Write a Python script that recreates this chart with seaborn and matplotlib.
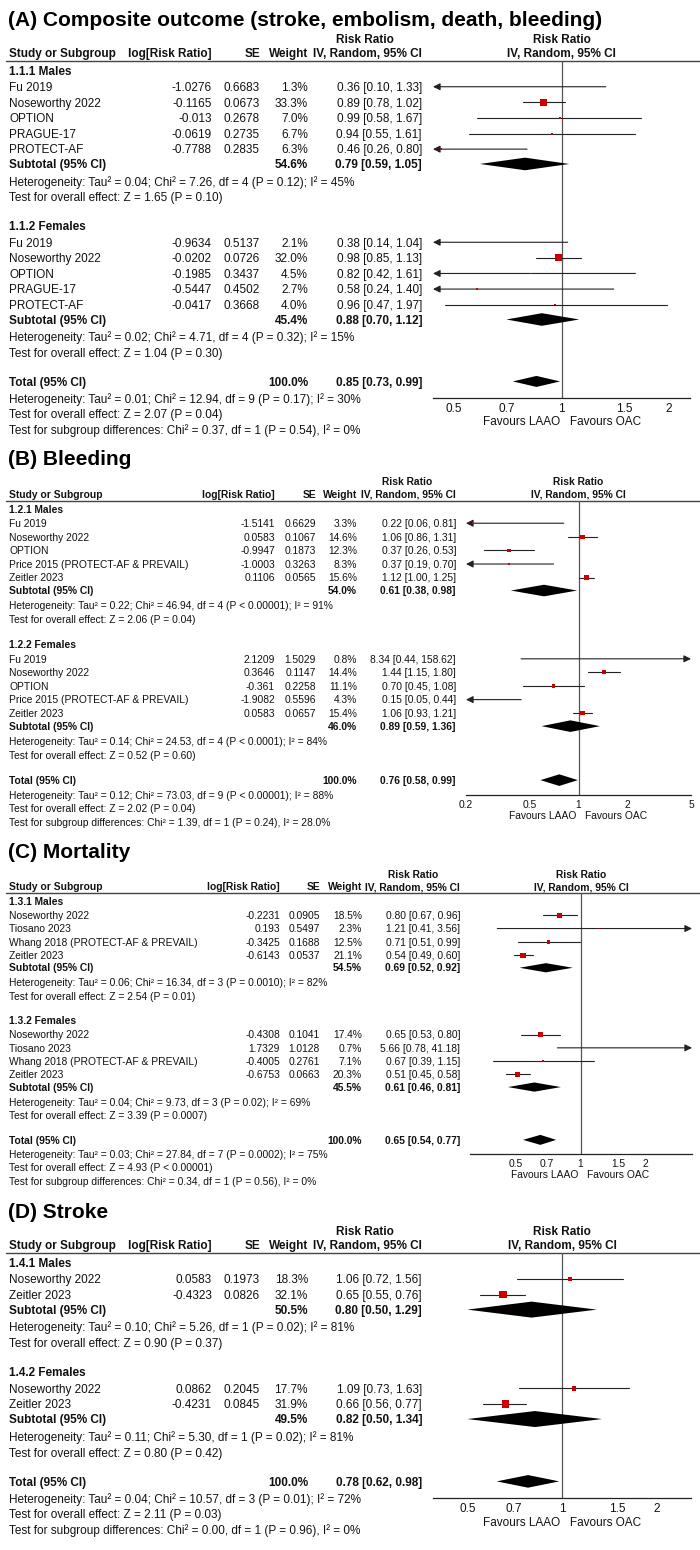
import numpy as np
import pandas as pd
import matplotlib
matplotlib.use("Agg")
import matplotlib.pyplot as plt
import seaborn as sns
from matplotlib.ticker import NullLocator

# ---------------- (A) Composite outcome ----------------
A_title = "(A) Composite outcome (stroke, embolism, death, bleeding)"
A_groups = ["1.1.1 Males", "1.1.2 Females"]
A_study = ["Fu 2019", "Noseworthy 2022", "OPTION", "PRAGUE-17", "PROTECT-AF",
           "Fu 2019", "Noseworthy 2022", "OPTION", "PRAGUE-17", "PROTECT-AF"]
A_group = [0, 0, 0, 0, 0, 1, 1, 1, 1, 1]
A_logrr = [-1.0276, -0.1165, -0.013, -0.0619, -0.7788,
           -0.9634, -0.0202, -0.1985, -0.5447, -0.0417]
A_se = [0.6683, 0.0673, 0.2678, 0.2735, 0.2835,
        0.5137, 0.0726, 0.3437, 0.4502, 0.3668]
A_weight = [1.3, 33.3, 7.0, 6.7, 6.3, 2.1, 32.0, 4.5, 2.7, 4.0]
A_rr = [0.36, 0.89, 0.99, 0.94, 0.46, 0.38, 0.98, 0.82, 0.58, 0.96]
A_lo = [0.10, 0.78, 0.58, 0.55, 0.26, 0.14, 0.85, 0.42, 0.24, 0.47]
A_hi = [1.33, 1.02, 1.67, 1.61, 0.80, 1.04, 1.13, 1.61, 1.40, 1.97]
A_sub_weight = [54.6, 45.4]
A_sub_rr = [0.79, 0.88]
A_sub_lo = [0.59, 0.70]
A_sub_hi = [1.05, 1.12]
A_sub_het = ["Heterogeneity: Tau² = 0.04; Chi² = 7.26, df = 4 (P = 0.12); I² = 45%",
             "Heterogeneity: Tau² = 0.02; Chi² = 4.71, df = 4 (P = 0.32); I² = 15%"]
A_sub_z = ["Test for overall effect: Z = 1.65 (P = 0.10)",
           "Test for overall effect: Z = 1.04 (P = 0.30)"]
A_total = [0.85, 0.73, 0.99]
A_total_het = "Heterogeneity: Tau² = 0.01; Chi² = 12.94, df = 9 (P = 0.17); I² = 30%"
A_total_z = "Test for overall effect: Z = 2.07 (P = 0.04)"
A_diff = "Test for subgroup differences: Chi² = 0.37, df = 1 (P = 0.54), I² = 0%"
A_ticks = [0.5, 0.7, 1, 1.5, 2]
A_ticklabels = ["0.5", "0.7", "1", "1.5", "2"]

# ---------------- (B) Bleeding ----------------
B_title = "(B) Bleeding"
B_groups = ["1.2.1 Males", "1.2.2 Females"]
B_study = ["Fu 2019", "Noseworthy 2022", "OPTION", "Price 2015 (PROTECT-AF & PREVAIL)", "Zeitler 2023",
           "Fu 2019", "Noseworthy 2022", "OPTION", "Price 2015 (PROTECT-AF & PREVAIL)", "Zeitler 2023"]
B_group = [0, 0, 0, 0, 0, 1, 1, 1, 1, 1]
B_logrr = [-1.5141, 0.0583, -0.9947, -1.0003, 0.1106,
           2.1209, 0.3646, -0.361, -1.9082, 0.0583]
B_se = [0.6629, 0.1067, 0.1873, 0.3263, 0.0565,
        1.5029, 0.1147, 0.2258, 0.5596, 0.0657]
B_weight = [3.3, 14.6, 12.3, 8.3, 15.6, 0.8, 14.4, 11.1, 4.3, 15.4]
B_rr = [0.22, 1.06, 0.37, 0.37, 1.12, 8.34, 1.44, 0.70, 0.15, 1.06]
B_lo = [0.06, 0.86, 0.26, 0.19, 1.00, 0.44, 1.15, 0.45, 0.05, 0.93]
B_hi = [0.81, 1.31, 0.53, 0.70, 1.25, 158.62, 1.80, 1.08, 0.44, 1.21]
B_sub_weight = [54.0, 46.0]
B_sub_rr = [0.61, 0.89]
B_sub_lo = [0.38, 0.59]
B_sub_hi = [0.98, 1.36]
B_sub_het = ["Heterogeneity: Tau² = 0.22; Chi² = 46.94, df = 4 (P < 0.00001); I² = 91%",
             "Heterogeneity: Tau² = 0.14; Chi² = 24.53, df = 4 (P < 0.0001); I² = 84%"]
B_sub_z = ["Test for overall effect: Z = 2.06 (P = 0.04)",
           "Test for overall effect: Z = 0.52 (P = 0.60)"]
B_total = [0.76, 0.58, 0.99]
B_total_het = "Heterogeneity: Tau² = 0.12; Chi² = 73.03, df = 9 (P < 0.00001); I² = 88%"
B_total_z = "Test for overall effect: Z = 2.02 (P = 0.04)"
B_diff = "Test for subgroup differences: Chi² = 1.39, df = 1 (P = 0.24), I² = 28.0%"
B_ticks = [0.2, 0.5, 1, 2, 5]
B_ticklabels = ["0.2", "0.5", "1", "2", "5"]

# ---------------- (C) Mortality ----------------
C_title = "(C) Mortality"
C_groups = ["1.3.1 Males", "1.3.2 Females"]
C_study = ["Noseworthy 2022", "Tiosano 2023", "Whang 2018 (PROTECT-AF & PREVAIL)", "Zeitler 2023",
           "Noseworthy 2022", "Tiosano 2023", "Whang 2018 (PROTECT-AF & PREVAIL)", "Zeitler 2023"]
C_group = [0, 0, 0, 0, 1, 1, 1, 1]
C_logrr = [-0.2231, 0.193, -0.3425, -0.6143, -0.4308, 1.7329, -0.4005, -0.6753]
C_se = [0.0905, 0.5497, 0.1688, 0.0537, 0.1041, 1.0128, 0.2761, 0.0663]
C_weight = [18.5, 2.3, 12.5, 21.1, 17.4, 0.7, 7.1, 20.3]
C_rr = [0.80, 1.21, 0.71, 0.54, 0.65, 5.66, 0.67, 0.51]
C_lo = [0.67, 0.41, 0.51, 0.49, 0.53, 0.78, 0.39, 0.45]
C_hi = [0.96, 3.56, 0.99, 0.60, 0.80, 41.18, 1.15, 0.58]
C_sub_weight = [54.5, 45.5]
C_sub_rr = [0.69, 0.61]
C_sub_lo = [0.52, 0.46]
C_sub_hi = [0.92, 0.81]
C_sub_het = ["Heterogeneity: Tau² = 0.06; Chi² = 16.34, df = 3 (P = 0.0010); I² = 82%",
             "Heterogeneity: Tau² = 0.04; Chi² = 9.73, df = 3 (P = 0.02); I² = 69%"]
C_sub_z = ["Test for overall effect: Z = 2.54 (P = 0.01)",
           "Test for overall effect: Z = 3.39 (P = 0.0007)"]
C_total = [0.65, 0.54, 0.77]
C_total_het = "Heterogeneity: Tau² = 0.03; Chi² = 27.84, df = 7 (P = 0.0002); I² = 75%"
C_total_z = "Test for overall effect: Z = 4.93 (P < 0.00001)"
C_diff = "Test for subgroup differences: Chi² = 0.34, df = 1 (P = 0.56), I² = 0%"
C_ticks = [0.5, 0.7, 1, 1.5, 2]
C_ticklabels = ["0.5", "0.7", "1", "1.5", "2"]

# ---------------- (D) Stroke ----------------
D_title = "(D) Stroke"
D_groups = ["1.4.1 Males", "1.4.2 Females"]
D_study = ["Noseworthy 2022", "Zeitler 2023", "Noseworthy 2022", "Zeitler 2023"]
D_group = [0, 0, 1, 1]
D_logrr = [0.0583, -0.4323, 0.0862, -0.4231]
D_se = [0.1973, 0.0826, 0.2045, 0.0845]
D_weight = [18.3, 32.1, 17.7, 31.9]
D_rr = [1.06, 0.65, 1.09, 0.66]
D_lo = [0.72, 0.55, 0.73, 0.56]
D_hi = [1.56, 0.76, 1.63, 0.77]
D_sub_weight = [50.5, 49.5]
D_sub_rr = [0.80, 0.82]
D_sub_lo = [0.50, 0.50]
D_sub_hi = [1.29, 1.34]
D_sub_het = ["Heterogeneity: Tau² = 0.10; Chi² = 5.26, df = 1 (P = 0.02); I² = 81%",
             "Heterogeneity: Tau² = 0.11; Chi² = 5.30, df = 1 (P = 0.02); I² = 81%"]
D_sub_z = ["Test for overall effect: Z = 0.90 (P = 0.37)",
           "Test for overall effect: Z = 0.80 (P = 0.42)"]
D_total = [0.78, 0.62, 0.98]
D_total_het = "Heterogeneity: Tau² = 0.04; Chi² = 10.57, df = 3 (P = 0.01); I² = 72%"
D_total_z = "Test for overall effect: Z = 2.11 (P = 0.03)"
D_diff = "Test for subgroup differences: Chi² = 0.00, df = 1 (P = 0.96), I² = 0%"
D_ticks = [0.5, 0.7, 1, 1.5, 2]
D_ticklabels = ["0.5", "0.7", "1", "1.5", "2"]

FAVOURS = "Favours LAAO   Favours OAC"

sns.set_theme(style="white")
plt.rcParams["font.family"] = ["Liberation Sans", "DejaVu Sans"]

W, H = 700, 1550
fig = plt.figure(figsize=(W / 100, H / 100), dpi=100)
fig.patch.set_facecolor("white")
tax = fig.add_axes([0, 0, 1, 1])
tax.set_xlim(0, W)
tax.set_ylim(H, 0)
tax.axis("off")

INK = "#111111"
RED = "#cc0000"


def put(x, y, s, size, ha="left", bold=False, color=INK):
    # y is the visual centre of the row (pixels from top)
    px = size * 100 / 72
    tax.text(x, y + 0.36 * px, s, ha=ha, va="baseline", fontsize=size,
             fontweight="bold" if bold else "normal", color=color)


def draw_panel(top, u, fs, cols, fx, xlim, sub_h, tot_h, sq_max, d):
    put(8, top, d["title"], 15.0, bold=True, color="black")
    line_y = top + 43
    fcx = (fx[0] + fx[1]) / 2

    # header
    put(cols["rr"], line_y - 1.45 * u, "Risk Ratio", fs, ha="center", bold=True)
    put(fcx, line_y - 1.45 * u, "Risk Ratio", fs, ha="center", bold=True)
    h2 = line_y - 0.5 * u
    put(cols["name"], h2, "Study or Subgroup", fs, bold=True)
    put(cols["log"], h2, "log[Risk Ratio]", fs, ha="right", bold=True)
    put(cols["se"], h2, "SE", fs, ha="right", bold=True)
    put(cols["w"], h2, "Weight", fs, ha="right", bold=True)
    put(cols["ci"], h2, "IV, Random, 95% CI", fs, ha="right", bold=True)
    put(fcx, h2, "IV, Random, 95% CI", fs, ha="center", bold=True)
    tax.plot([6, W], [line_y, line_y], color="#444444", lw=1.0)

    df = pd.DataFrame({"study": d["study"], "group": d["group"], "logrr": d["logrr"],
                       "se": d["se"], "weight": d["weight"], "rr": d["rr"],
                       "lo": d["lo"], "hi": d["hi"]})
    ys = []
    sub_rows = []
    y = line_y + 0.6 * u
    test_y = y
    for g in range(2):
        if g == 1:
            y = test_y + 1.85 * u
        put(cols["name"], y, d["groups"][g], fs, bold=True)
        y += 1.05 * u
        sel = df[df["group"] == g]
        for _, r in sel.iterrows():
            ys.append(y)
            put(cols["name"], y, r["study"], fs)
            put(cols["log"], y, f"{r['logrr']:g}", fs, ha="right")
            put(cols["se"], y, f"{r['se']:.4f}", fs, ha="right")
            put(cols["w"], y, f"{r['weight']:.1f}%", fs, ha="right")
            put(cols["ci"], y, f"{r['rr']:.2f} [{r['lo']:.2f}, {r['hi']:.2f}]", fs, ha="right")
            y += u
        sub_y = y - u + 0.95 * u
        sub_rows.append(sub_y)
        put(cols["name"], sub_y, "Subtotal (95% CI)", fs, bold=True)
        put(cols["w"], sub_y, f"{d['sub_weight'][g]:.1f}%", fs, ha="right", bold=True)
        put(cols["ci"], sub_y, f"{d['sub_rr'][g]:.2f} [{d['sub_lo'][g]:.2f}, {d['sub_hi'][g]:.2f}]",
            fs, ha="right", bold=True)
        het_y = sub_y + 1.12 * u
        put(cols["name"], het_y, d["sub_het"][g], fs)
        test_y = het_y + u
        put(cols["name"], test_y, d["sub_z"][g], fs)
    df["y"] = ys

    tot_y = test_y + 1.85 * u
    rr, lo, hi = d["total"]
    put(cols["name"], tot_y, "Total (95% CI)", fs, bold=True)
    put(cols["w"], tot_y, "100.0%", fs, ha="right", bold=True)
    put(cols["ci"], tot_y, f"{rr:.2f} [{lo:.2f}, {hi:.2f}]", fs, ha="right", bold=True)
    thet_y = tot_y + 1.08 * u
    put(cols["name"], thet_y, d["total_het"], fs)
    tz_y = thet_y + u
    put(cols["name"], tz_y, d["total_z"], fs)
    diff_y = tz_y + 1.02 * u
    put(cols["name"], diff_y, d["diff"], fs)

    # forest area
    axis_y = thet_y
    fax = fig.add_axes([fx[0] / W, 1 - axis_y / H, (fx[1] - fx[0]) / W, (axis_y - line_y) / H])
    fax.patch.set_alpha(0)
    fax.set_xscale("log")
    fax.set_xlim(xlim)
    fax.set_ylim(axis_y, line_y)
    for s in ["top", "left", "right"]:
        fax.spines[s].set_visible(False)
    fax.spines["bottom"].set_color("#222222")
    fax.spines["bottom"].set_linewidth(0.9)
    fax.set_yticks([])
    fax.set_xticks(d["ticks"])
    fax.set_xticklabels(d["ticklabels"])
    fax.xaxis.set_minor_locator(NullLocator())
    fax.tick_params(axis="x", direction="inout", length=5, width=0.8, color="#222222",
                    pad=1.2, labelsize=fs, labelcolor=INK)
    fax.axvline(1, color="#555555", lw=0.9, zorder=1)

    x0, x1 = xlim
    for _, r in df.iterrows():
        a, b = max(r["lo"], x0), min(r["hi"], x1)
        kw = dict(arrowstyle="-|>,head_length=0.6,head_width=0.3", color="#222222",
                  lw=0.8, shrinkA=0, shrinkB=0, mutation_scale=7)
        if r["lo"] < x0:
            fax.annotate("", xy=(x0, r["y"]), xytext=(b, r["y"]), arrowprops=kw,
                         annotation_clip=False)
        elif r["hi"] > x1:
            fax.annotate("", xy=(x1, r["y"]), xytext=(a, r["y"]), arrowprops=kw,
                         annotation_clip=False)
        else:
            fax.plot([a, b], [r["y"], r["y"]], color="#222222", lw=0.8, zorder=2)

    side = np.maximum(sq_max * (df["weight"] / 33.0) ** 0.8, 1.6)
    sns.scatterplot(data=df, x="rr", y="y", marker="s", color=RED, linewidth=0,
                    s=(side * 0.72) ** 2, ax=fax, zorder=3, legend=False)
    fax.set_xlabel("")
    fax.set_ylabel("")

    for g, sy in enumerate(sub_rows):
        fax.fill([d["sub_lo"][g], d["sub_rr"][g], d["sub_hi"][g], d["sub_rr"][g]],
                 [sy, sy - sub_h, sy, sy + sub_h], color="black", lw=0, zorder=3)
    fax.fill([lo, rr, hi, rr], [tot_y, tot_y - tot_h, tot_y, tot_y + tot_h],
             color="black", lw=0, zorder=3)

    fax.text(1.0, axis_y + 1.55 * u, FAVOURS, ha="center", va="center", fontsize=fs,
             color=INK, transform=fax.transData)
    return diff_y


def pack(p):
    g = globals()
    keys = ["title", "groups", "study", "group", "logrr", "se", "weight", "rr", "lo", "hi",
            "sub_weight", "sub_rr", "sub_lo", "sub_hi", "sub_het", "sub_z", "total",
            "total_het", "total_z", "diff", "ticks", "ticklabels"]
    return {k: g[f"{p}_{k}"] for k in keys}


cols_wide = dict(name=9, log=212, se=260, w=308, ci=422, rr=365)
cols_B = dict(name=9, log=275, se=316, w=357, ci=456, rr=407)
cols_C = dict(name=9, log=280, se=320, w=362, ci=460, rr=413)

fa, fb = 8.5, 7.4
end = draw_panel(18, 15.6, fa, cols_wide, (433, 690), (0.436, 2.29), 6.3, 5.5, 7.0, pack("A"))
end = draw_panel(end + 28, 13.6, fb, cols_B, (466, 691), (0.2, 5.0), 5.8, 5.8, 8.0, pack("B"))
end = draw_panel(end + 28, 13.3, fb, cols_C, (470, 692), (0.306, 3.3), 4.6, 5.0, 7.5, pack("C"))
end = draw_panel(end + 29, 15.7, fa, cols_wide, (433, 691), (0.389, 2.57), 8.0, 6.3, 7.5, pack("D"))

fig.savefig("out.png", dpi=100, facecolor="white")
